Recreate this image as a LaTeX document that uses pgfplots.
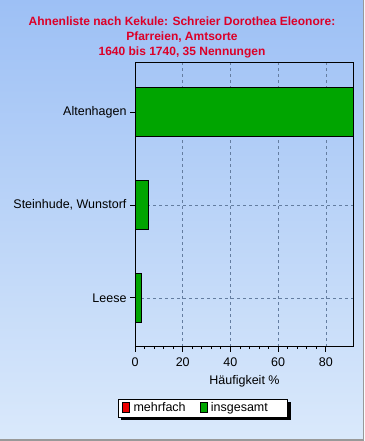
\documentclass[border=0pt]{standalone}
\usepackage{pgfplots}
\pgfplotsset{compat=1.18}
\usepackage{fontspec}
\setmainfont{Liberation Sans}

\definecolor{bgtop}{RGB}{157,192,245}
\definecolor{bgbot}{RGB}{218,233,251}
\definecolor{titlered}{RGB}{220,0,40}
\definecolor{bargreen}{RGB}{0,165,0}
\definecolor{barred}{RGB}{235,0,0}
\definecolor{gridc}{RGB}{100,125,160}

\pgfdeclarelayer{bg}
\pgfdeclarelayer{sh}
\pgfsetlayers{bg,sh,main}

\begin{document}
\begin{tikzpicture}[x=1pt,y=1pt]
\useasboundingbox (0,0) rectangle (364,441);
\begin{pgfonlayer}{bg}
\shade[top color=bgtop, bottom color=bgbot] (0,0) rectangle (364,441);
\draw[gray!80, line width=1.5pt] (363.25,441) -- (363.25,0.75) -- (0,0.75);
\end{pgfonlayer}
\node[align=center, text=titlered, font=\fontsize{12}{15}\selectfont\bfseries, inner sep=0pt]
  at (182,403.7) {Ahnenliste nach Kekule: Schreier Dorothea Eleonore:\\Pfarreien, Amtsorte\\1640 bis 1740, 35 Nennungen};
\begin{axis}[
  at={(135pt,94.3pt)}, anchor=south west,
  scale only axis, width=219pt, height=284pt,
  xmin=0, xmax=91.8, ymin=-0.525, ymax=2.53,
  xbar, bar width=49pt,
  ytick={0,1,2},
  yticklabels={Leese, {Steinhude, Wunstorf}, Altenhagen},
  xtick={0,20,40,60,80}, minor x tick num=4,
  tick align=outside,
  major tick length=5pt, minor tick length=2.5pt,
  tick style={black, line width=0.8pt},
  xtick pos=bottom, ytick pos=left,
  grid=major,
  major grid style={gridc, line width=0.6pt, dash pattern=on 3pt off 3pt},
  axis line style={black, line width=1pt},
  xlabel={Häufigkeit \%},
  xlabel style={yshift=-1pt},
  ticklabel style={font=\fontsize{12.5}{15}\selectfont},
  label style={font=\fontsize{12.5}{15}\selectfont},
  /pgf/number format/assume math mode=true,
  xticklabel style={yshift=-3pt},
  legend columns=2,
  legend style={
    at={(-0.078,-0.184)}, anchor=north west,
    name=leg,
    draw=black, fill=white, line width=0.8pt,
    font=\fontsize{12.5}{15}\selectfont,
    inner xsep=4pt, inner ysep=1.5pt,
    /tikz/every even column/.append style={column sep=12pt}
  },
  legend image code/.code={
    \path[draw=none, fill=none] (0pt,0pt) -- (9pt,0pt);
    \draw[#1, draw=black, line width=0.5pt] (0pt,-4.5pt) rectangle (7pt,5.5pt);
  },
]
\addlegendimage{fill=barred}
\addlegendentry{mehrfach}
\addplot[fill=bargreen, draw=black, line width=1pt] coordinates {
  (2.86,0) (5.71,1) (91.43,2)
};
\addlegendentry{insgesamt\kern 14pt}
\draw[black, line width=2pt] (rel axis cs:0,1) -- (rel axis cs:0,0) -- (rel axis cs:1,0);
\end{axis}
\begin{pgfonlayer}{sh}
\fill[black] ([shift={(3pt,-3pt)}]leg.south west) rectangle ([shift={(3pt,-3pt)}]leg.north east);
\end{pgfonlayer}
\end{tikzpicture}
\end{document}
